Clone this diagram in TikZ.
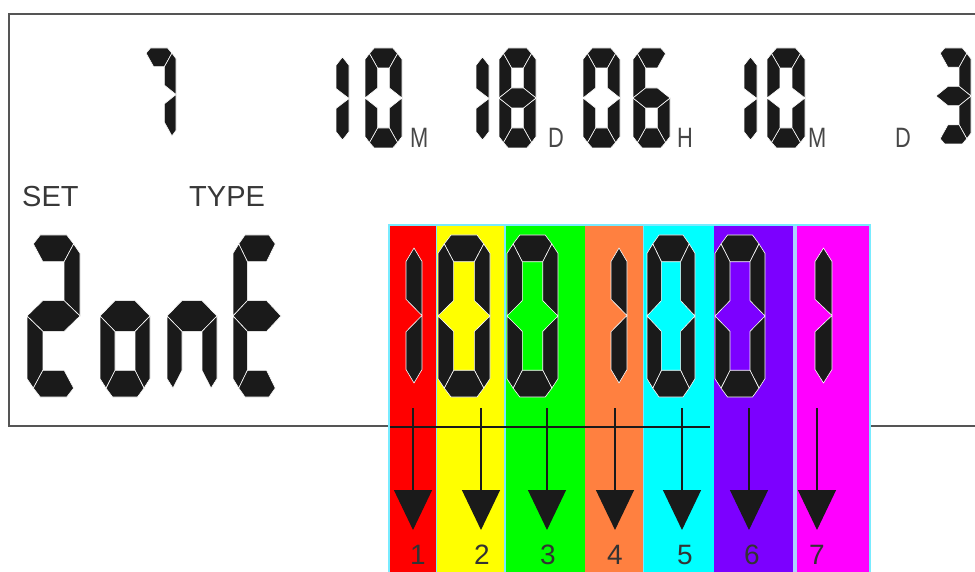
\documentclass[tikz,border=0pt]{standalone}
\usepackage{fontspec}
\setmainfont{Liberation Sans}
\newfontfamily\narrowfont[FakeStretch=0.78]{Liberation Sans}
\usetikzlibrary{arrows.meta}
\definecolor{segk}{HTML}{1A1A1A}
\definecolor{bordc}{HTML}{555555}
\definecolor{cRed}{RGB}{255,0,0}
\definecolor{cYel}{RGB}{255,255,0}
\definecolor{cGrn}{RGB}{0,255,0}
\definecolor{cOrg}{RGB}{255,128,64}
\definecolor{cCya}{RGB}{0,255,255}
\definecolor{cPur}{RGB}{124,0,255}
\definecolor{cMag}{RGB}{255,0,255}
\definecolor{cEdge}{RGB}{120,235,255}
\definecolor{cGap}{RGB}{170,210,255}
\tikzset{
  seg/.style={fill=segk, draw=white, line width=0.6pt, line join=round},
  lbl/.style={text=black!78, font=\fontsize{29}{30}\selectfont, inner sep=0pt, anchor=base west},
  unitl/.style={text=black!72, font=\narrowfont\fontsize{28}{29}\selectfont, inner sep=0pt, anchor=base west},
  numl/.style={text=black!80, font=\fontsize{28}{29}\selectfont, inner sep=0pt, anchor=base},
  arr/.style={line width=1.2pt, -{Triangle[width=38pt,length=40pt]}, segk}
}
% thickness parameters: \tk horizontal (fraction of width), \tv vertical (fraction of height)
\def\tk{0.3}\def\tv{0.165}\def\tm{0.095}
% seven segment pieces in a unit box (y up)
\newcommand\dgsega{\path[seg] (0.12,0.945) -- (0.25,1) -- (0.75,1) -- (0.88,0.945) -- (1-\tk,1-\tv) -- (\tk,1-\tv) -- cycle;}
\newcommand\dgsegb{\path[seg] (0.88,0.945) -- (1,0.887) -- (1,0.5) -- (1-\tk,0.5+\tm) -- (1-\tk,1-\tv) -- cycle;}
\newcommand\dgsegc{\path[seg] (1,0.5) -- (1,0.113) -- (0.88,0.055) -- (1-\tk,\tv) -- (1-\tk,0.5-\tm) -- cycle;}
\newcommand\dgsegd{\path[seg] (0.12,0.055) -- (0.25,0) -- (0.75,0) -- (0.88,0.055) -- (1-\tk,\tv) -- (\tk,\tv) -- cycle;}
\newcommand\dgsege{\path[seg] (0,0.5) -- (\tk,0.5-\tm) -- (\tk,\tv) -- (0.12,0.055) -- (0,0.113) -- cycle;}
\newcommand\dgsegf{\path[seg] (0,0.5) -- (0,0.887) -- (0.12,0.945) -- (\tk,1-\tv) -- (\tk,0.5+\tm) -- cycle;}
\newcommand\dgsegg{\path[seg] (0,0.5) -- (\tk,0.5+\tm) -- (1-\tk,0.5+\tm) -- (1,0.5) -- (1-\tk,0.5-\tm) -- (\tk,0.5-\tm) -- cycle;}
% #1 x-left, #2 y-top, #3 width, #4 height, #5 segments
\newcommand\sevdigit[5]{%
  \begin{scope}[shift={(#1,#2+#4)}, xscale=#3, yscale=-#4]
    \foreach \s in {#5} {\csname dgseg\s\endcsname}
  \end{scope}}
\newcommand\onedigit[4]{%
  \begin{scope}[shift={(#1,#2+#4)}, xscale=#3, yscale=-#4]
    \path[seg] (0,0.9) -- (0.5,1) -- (1,0.9) -- (1,0.5) -- (0,0.62) -- cycle;
    \path[seg] (1,0.5) -- (0,0.38) -- (0,0.1) -- (0.5,0) -- (1,0.1) -- cycle;
  \end{scope}}
\begin{document}
\begin{tikzpicture}[x=1pt,y=-1pt]
\useasboundingbox (0,0) rectangle (975,572);
\fill[white] (0,0) rectangle (975,572);
% LCD frame
\draw[bordc, line width=2pt] (980,14) -- (9,14) -- (9,426) -- (980,426);
% colour columns
\fill[cEdge] (388,224) rectangle (871,575);
\fill[cRed] (390,226) rectangle (436,575);
\fill[cYel] (437,226) rectangle (504,575);
\fill[cGrn] (506,226) rectangle (585,575);
\fill[cOrg] (585,226) rectangle (643,575);
\fill[cCya] (644,226) rectangle (714,575);
\fill[cPur] (714,226) rectangle (793,575);
\fill[cGap] (793,226) rectangle (797,575);
\fill[cMag] (797,226) rectangle (869,575);
\draw[segk, line width=1.2pt] (390,427) -- (710,427);
% top row digits (bolder proportions)
\begingroup
\def\tk{0.34}\def\tv{0.2}\def\tm{0.1}
\sevdigit{142}{48}{34}{93}{a,b,c}
\onedigit{336}{57}{13}{83}
\sevdigit{365}{48}{37}{100}{a,b,c,d,e,f}
\onedigit{476}{57}{13}{83}
\sevdigit{499}{48}{37}{100}{a,b,c,d,e,f,g}
\sevdigit{583}{48}{37}{100}{a,b,c,d,e,f}
\sevdigit{633}{48}{37}{100}{a,c,d,e,f,g}
\onedigit{744}{57}{13}{83}
\sevdigit{767}{48}{38}{100}{a,b,c,d,e,f}
\sevdigit{936}{48}{35}{96}{a,b,c,d,g}
\endgroup
% unit letters
\node[unitl] (u1) at (410,148) {M};
\node[unitl] (u2) at (548,148) {D};
\node[unitl] (u3) at (677,148) {H};
\node[unitl] (u4) at (808,148) {M};
\node[unitl] (u5) at (895,148) {D};
% labels
\node[lbl] (set) at (22,207) {SET};
\node[lbl] (type) at (189,207) {TYPE};
% 2onE
\sevdigit{27}{235}{53}{162}{a,b,g,e,d}
\sevdigit{100}{235}{50}{162}{g,c,d,e}
\sevdigit{167}{235}{50}{162}{g,c,e}
\sevdigit{233}{235}{48}{162}{a,f,g,e,d}
% 1001001
\onedigit{406}{248}{16}{135}
\sevdigit{438}{235}{52}{162}{a,b,c,d,e,f}
\sevdigit{507}{235}{51}{162}{a,b,c,d,e,f}
\onedigit{611}{248}{16}{135}
\sevdigit{647}{235}{48}{162}{a,b,c,d,e,f}
\sevdigit{715}{235}{50}{162}{a,b,c,d,e,f}
\onedigit{815}{248}{17}{135}
% arrows and bit numbers
\foreach \i/\x/\nx in {1/413/418,2/481/482,3/547/548,4/615/615,5/682/685,6/749/752,7/817/817} {
  \coordinate (s\i) at (\x,408);
  \coordinate (t\i) at (\x,530);
  \draw[arr] (s\i) -- (t\i);
  \node[numl] (n\i) at (\nx,564) {\i};
}
\end{tikzpicture}
\end{document}
